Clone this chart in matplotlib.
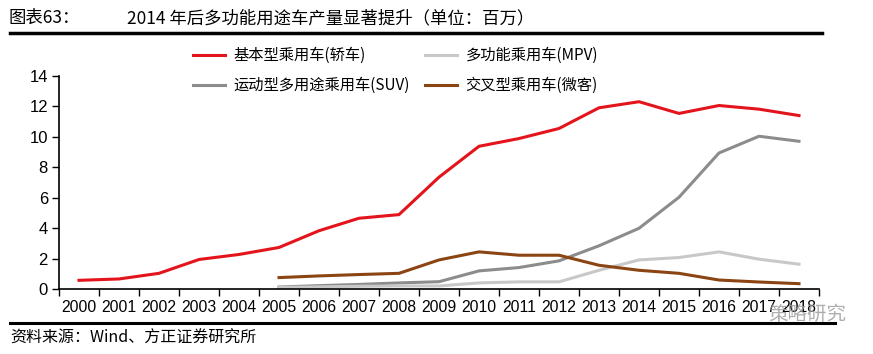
import numpy as np
import matplotlib
matplotlib.use("Agg")
import matplotlib.pyplot as plt
from matplotlib import font_manager
from matplotlib.lines import Line2D

years = ["2000", "2001", "2002", "2003", "2004", "2005", "2006", "2007", "2008", "2009",
         "2010", "2011", "2012", "2013", "2014", "2015", "2016", "2017", "2018"]
sedan = [0.57, 0.66, 1.03, 1.94, 2.27, 2.73, 3.83, 4.65, 4.89, 7.35,
         9.38, 9.89, 10.55, 11.91, 12.31, 11.54, 12.06, 11.82, 11.40]
suv = [np.nan, np.nan, np.nan, np.nan, np.nan, 0.13, 0.22, 0.30, 0.40, 0.48,
       1.19, 1.41, 1.85, 2.84, 3.99, 6.03, 8.94, 10.04, 9.71]
mpv = [np.nan, np.nan, np.nan, np.nan, np.nan, 0.10, 0.14, 0.18, 0.20, 0.20,
       0.40, 0.47, 0.47, 1.23, 1.91, 2.07, 2.44, 1.96, 1.63]
crossover = [np.nan, np.nan, np.nan, np.nan, np.nan, 0.75, 0.86, 0.95, 1.03, 1.91,
             2.44, 2.22, 2.22, 1.56, 1.23, 1.03, 0.59, 0.46, 0.35]
labels = ["基本型乘用车(轿车)", "运动型多用途乘用车(SUV)", "多功能乘用车(MPV)", "交叉型乘用车(微客)"]
yticks = [0, 2, 4, 6, 8, 10, 12, 14]

names = {f.name for f in font_manager.fontManager.ttflist}
num_font = "Liberation Sans Narrow" if "Liberation Sans Narrow" in names else "Liberation Sans"
cjk = ["Noto Sans CJK SC", "DejaVu Sans"]
plt.rcParams["font.family"] = cjk

W, H = 873, 354
fig = plt.figure(figsize=(W / 100, H / 100), dpi=100)
ax = fig.add_axes([59 / W, 1 - 289 / H, (819 - 59) / W, (289 - 76) / H])

x = np.arange(len(years))
l1, = ax.plot(x, sedan, color="#E3141B", lw=2.2)
l2, = ax.plot(x, suv, color="#8C8C8C", lw=2.2)
l3, = ax.plot(x, mpv, color="#C8C8C8", lw=2.2)
l4, = ax.plot(x, crossover, color="#8B4513", lw=2.2)

ax.set_xlim(-0.5, len(years) - 0.5)
ax.set_ylim(0, 14)
ax.set_yticks(yticks)
ax.set_yticklabels([str(v) for v in yticks], fontfamily=num_font, fontsize=12)
ax.set_xticks(np.arange(-0.5, len(years), 1.0))
ax.set_xticklabels([])
ax.set_xticks(x, minor=True)
ax.set_xticklabels(years, minor=True, fontfamily=num_font, fontsize=11.3)
ax.tick_params(axis="x", which="major", direction="out", length=5, width=1, color="black")
ax.tick_params(axis="x", which="minor", length=0, pad=8)
ax.tick_params(axis="y", direction="out", length=5, width=1, pad=3)
for s in ["top", "right"]:
    ax.spines[s].set_visible(False)
for s in ["left", "bottom"]:
    ax.spines[s].set_color("black")
    ax.spines[s].set_linewidth(1.2)

leg = fig.legend([l1, l2, l3, l4], labels, ncol=2, loc="upper left",
                 bbox_to_anchor=(193 / W, 1 - 47 / H), frameon=False,
                 fontsize=11, handlelength=2.1, handletextpad=0.55,
                 columnspacing=1.0, labelspacing=0.85, borderpad=0, borderaxespad=0)

fig.text(8 / W, 1 - 18 / H, "图表63：", fontsize=12.5, va="center", ha="left")
fig.text(127 / W, 1 - 18 / H, "2014 年后多功能用途车产量显著提升（单位：百万）",
         fontsize=12.5, va="center", ha="left")
fig.add_artist(Line2D([10 / W, 822 / W], [1 - 33 / H, 1 - 33 / H], color="black", lw=2.5))
fig.add_artist(Line2D([10 / W, 835 / W], [1 - 323 / H, 1 - 323 / H], color="black", lw=2.2))
fig.text(10 / W, 1 - 338 / H, "资料来源：Wind、方正证券研究所", fontsize=11.5,
         va="center", ha="left", style="italic")
fig.text(846 / W, 1 - 314 / H, "策略研究", fontsize=14, va="center", ha="right",
         color="#9A9A9A", alpha=0.8)

fig.savefig("out.png", dpi=100)
